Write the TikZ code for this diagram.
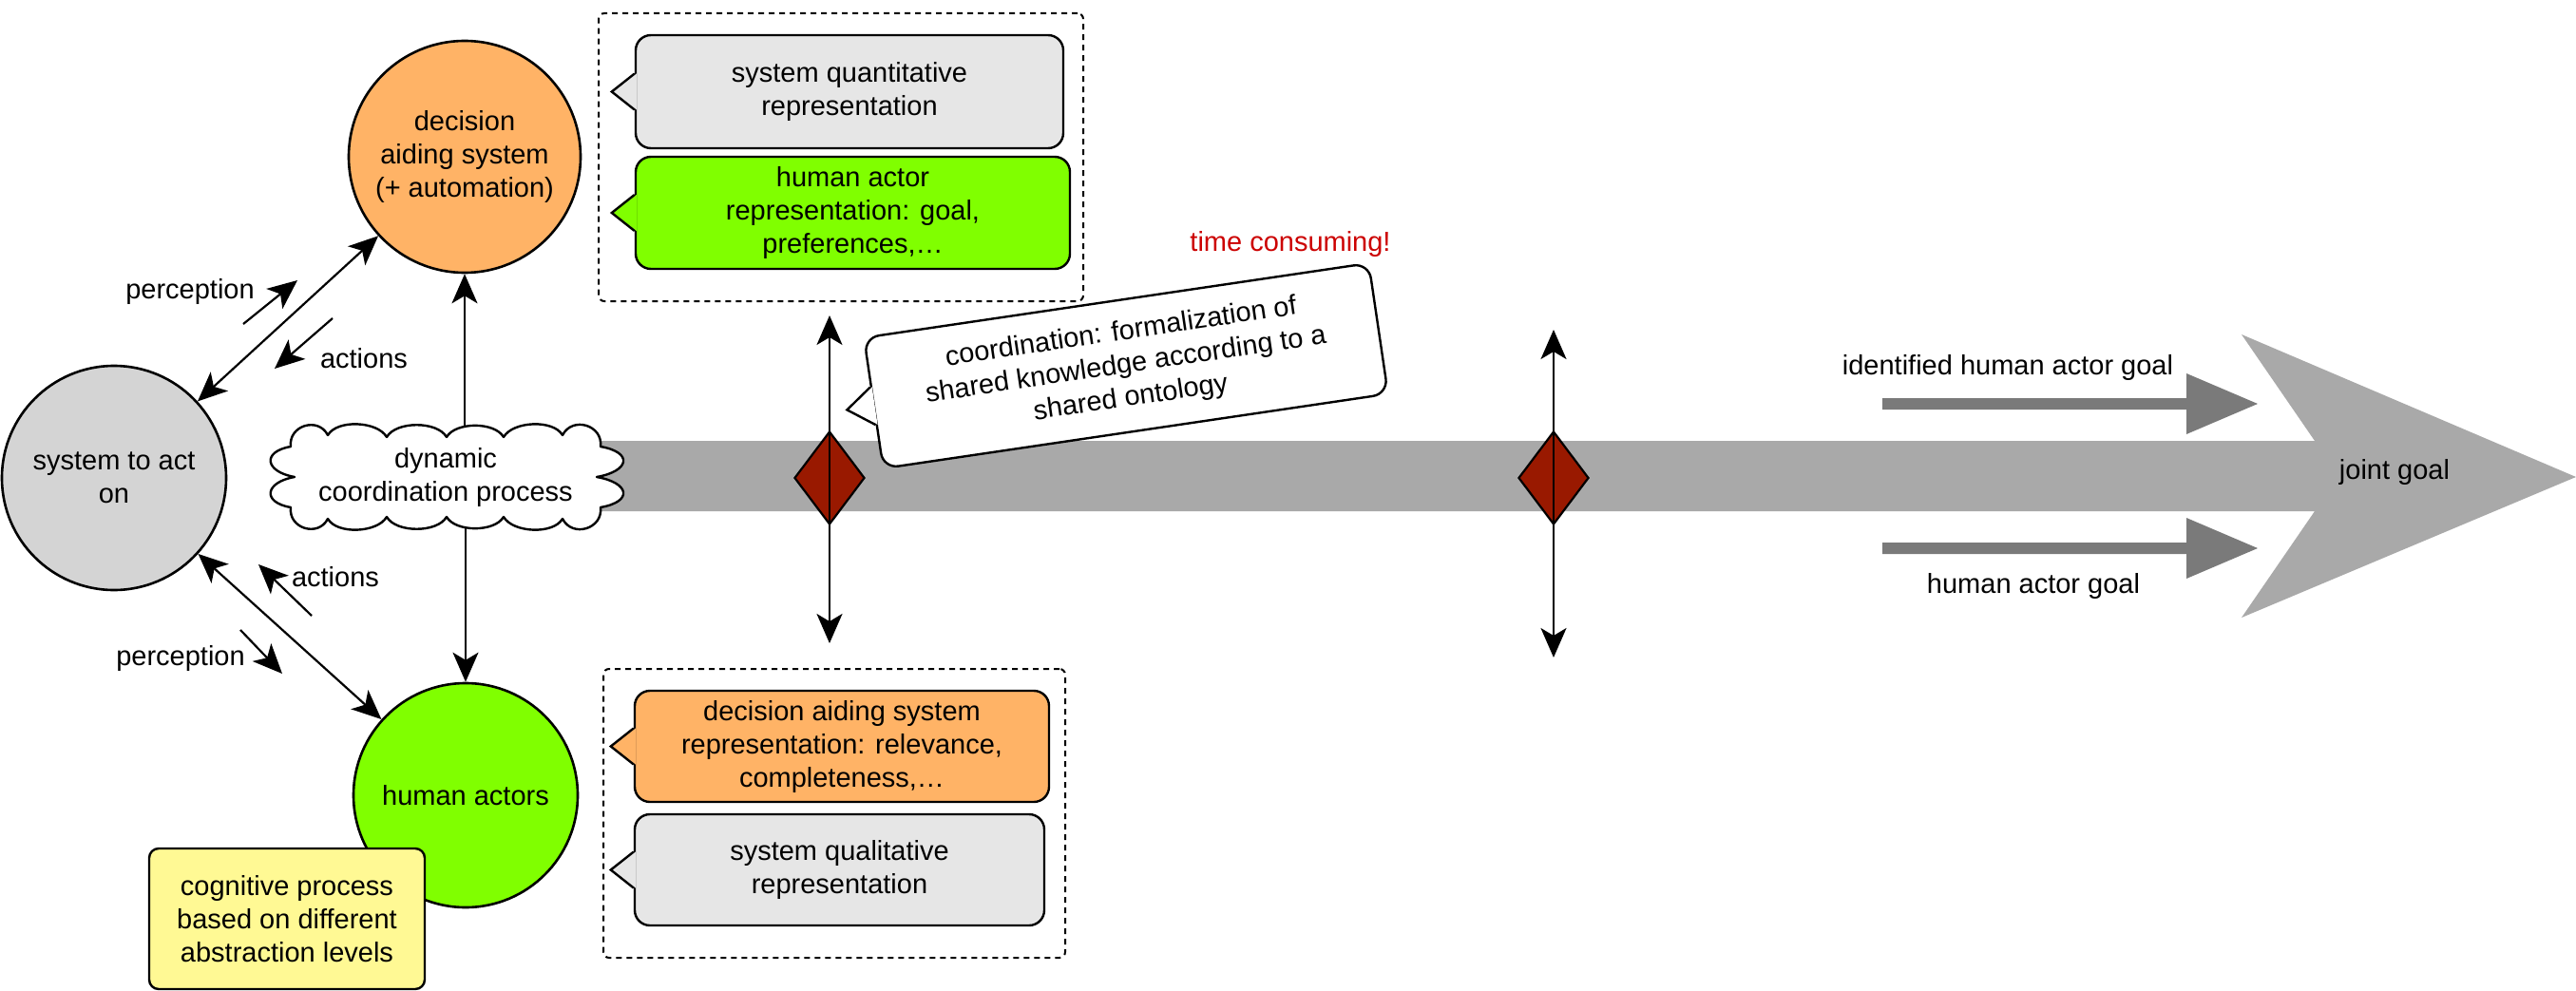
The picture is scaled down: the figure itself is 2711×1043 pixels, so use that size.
\documentclass[tikz,border=0pt]{standalone}
\usepackage{fontspec}
\setmainfont{Liberation Sans}
\usetikzlibrary{arrows.meta,shapes.geometric,calc}
\definecolor{orng}{HTML}{FFB366}
\definecolor{grn}{HTML}{80FF00}
\definecolor{sysgray}{HTML}{D4D4D4}
\definecolor{lgray}{HTML}{E6E6E6}
\definecolor{bandgray}{HTML}{A9A9A9}
\definecolor{darrgray}{HTML}{7A7A7A}
\definecolor{diared}{HTML}{991900}
\definecolor{yel}{HTML}{FFF994}
\definecolor{redtxt}{HTML}{CC0000}
\newcommand\bubbleptr[2]{%
  \fill[#2] ([xshift=2pt,yshift=19pt]#1.west) -- ([xshift=-24pt]#1.west) -- ([xshift=2pt,yshift=-19pt]#1.west) -- cycle;
  \draw[ptr] ([yshift=19pt]#1.west) -- ([xshift=-24pt]#1.west) -- ([yshift=-19pt]#1.west);}
\begin{document}
\begin{tikzpicture}[x=1pt,y=-1pt,
  txt/.style={font=\fontsize{29}{35}\selectfont, align=center, inner sep=0pt},
  circ/.style={txt, circle, draw, line width=2.6pt},
  conn/.style={line width=2.2pt, -{Stealth[length=31pt,width=27pt,inset=8pt]}},
  dconn/.style={line width=2.2pt, {Stealth[length=31pt,width=27pt,inset=8pt]}-{Stealth[length=31pt,width=27pt,inset=8pt]}},
  bubble/.style={txt, draw, line width=2.4pt, rounded corners=16pt},
  group/.style={draw, line width=2pt, dash pattern=on 6pt off 5pt, rounded corners=6pt, inner sep=0pt},
  dmd/.style={diamond, draw, fill=diared, line width=2.2pt, minimum width=74pt, minimum height=98pt, inner sep=0pt},
  ptr/.style={line width=2.4pt, line join=miter},
  cloudline/.style={draw, fill=white, line width=2.4pt, line join=round},
]
\fill[white] (0,0) rectangle (2711,1043);
\useasboundingbox (0,0) rectangle (2711,1043);

% main band with arrow head
\fill[bandgray] (600,464) -- (2436,464) -- (2359,352) -- (2711,502) -- (2359,650) -- (2436,538) -- (600,538) -- cycle;
% goal arrows
\fill[darrgray] (1981,419) -- (2301,419) -- (2301,393) -- (2376,425) -- (2301,457) -- (2301,431) -- (1981,431) -- cycle;
\fill[darrgray] (1981,571) -- (2301,571) -- (2301,545) -- (2376,577) -- (2301,609) -- (2301,583) -- (1981,583) -- cycle;
\node[txt] (idg) at (2113,387) {identified human actor goal};
\node[txt] (hag) at (2140,617) {human actor goal};
\node[txt] (jg) at (2520,497) {joint goal};
\node[txt, text=redtxt] (tc) at (1358,257) {time consuming!};

% circles
\node[circ, fill=sysgray, minimum size=236pt] (sys) at (120,503) {system to act\\on};
\node[circ, fill=orng, minimum size=244pt] (dec) at (489,165) {decision\\aiding system\\(+ automation)};
\node[circ, fill=grn, minimum size=236pt] (hum) at (490,837) {human actors};

% cloud arrows
\coordinate (cc) at (469,502);
\draw[conn] (cc -| dec.south) -- (dec.south);
\draw[conn] (cc -| hum.north) -- (hum.north);
% cloud outline
\path[cloudline] (310,502)
  to[out=170,in=190,looseness=2.5] (306,470)
  to[out=97,in=117,looseness=1.4] (345,458)
  to[out=60,in=120,looseness=0.8] (407,460)
  to[out=60,in=120,looseness=0.8] (470,460)
  to[out=60,in=120,looseness=0.8] (530,460)
  to[out=60,in=120,looseness=0.8] (592,458)
  to[out=63,in=83,looseness=1.4] (632,470)
  to[out=350,in=10,looseness=2.8] (628,502)
  to[out=350,in=10,looseness=2.8] (632,534)
  to[out=277,in=297,looseness=1.4] (592,546)
  to[out=240,in=300,looseness=0.8] (530,544)
  to[out=240,in=300,looseness=0.8] (470,544)
  to[out=240,in=300,looseness=0.8] (407,544)
  to[out=240,in=300,looseness=0.8] (345,546)
  to[out=243,in=263,looseness=1.4] (306,534)
  to[out=170,in=190,looseness=2.5] (310,502) -- cycle;
\node[txt] (cloud) at (cc) {dynamic\\coordination process};

% links between circles
\draw[dconn] (sys) -- (dec);
\draw[dconn] (sys) -- (hum);

% perception / actions
\coordinate (p1s) at (256,341); \coordinate (p1e) at (313,295);
\coordinate (a1s) at (350,335); \coordinate (a1e) at (289,388);
\coordinate (a2s) at (328,648); \coordinate (a2e) at (272,594);
\coordinate (p2s) at (253,663); \coordinate (p2e) at (297,709);
\draw[conn] (p1s) -- (p1e);
\draw[conn] (a1s) -- (a1e);
\draw[conn] (a2s) -- (a2e);
\draw[conn] (p2s) -- (p2e);
\node[txt] (pl1) at (200,307) {perception};
\node[txt] (al1) at (383,377) {actions};
\node[txt] (al2) at (353,607) {actions};
\node[txt] (pl2) at (190,693) {perception};

% cognitive box
\node[txt, draw, fill=yel, line width=2.4pt, rounded corners=10pt, minimum width=290pt, minimum height=148pt] (cog) at (302,967) {cognitive process\\based on different\\abstraction levels};

% groups
\node[group, minimum width=510pt, minimum height=303pt] (g1) at (885,165.5) {};
\node[group, minimum width=486pt, minimum height=304pt] (g2) at (878,856) {};

% callouts
\node[bubble, fill=lgray, minimum width=450pt, minimum height=119pt] (sq) at (894,96.5) {system quantitative\\representation};
\bubbleptr{sq}{lgray}
\node[bubble, fill=grn, minimum width=457pt, minimum height=118pt] (har) at (897.5,224) {human actor\\representation: goal,\\preferences,…};
\bubbleptr{har}{grn}
\node[bubble, fill=orng, minimum width=436pt, minimum height=117pt] (dar) at (886,785.5) {decision aiding system\\representation: relevance,\\completeness,…};
\bubbleptr{dar}{orng}
\node[bubble, fill=lgray, minimum width=431pt, minimum height=117pt] (sql) at (883.5,915.5) {system qualitative\\representation};
\bubbleptr{sql}{lgray}

% diamonds
\node[dmd] (d1) at (873,503) {};
\node[dmd] (d2) at (1635,503) {};
\coordinate (v1t) at (873,332); \coordinate (v1b) at (873,677);
\coordinate (v2t) at (1635,347); \coordinate (v2b) at (1635,692);
\draw[conn] (d1.center) -- (v1t);
\draw[conn] (d1.center) -- (v1b);
\draw[conn] (d2.center) -- (v2t);
\draw[conn] (d2.center) -- (v2b);

% coordination callout
\node[bubble, fill=white, rotate=8.4, minimum width=537pt, minimum height=139pt] (coord) at (1185,385) {coordination: formalization of\\shared knowledge according to a\\shared ontology};
\begin{scope}[shift={(coord.west)}, rotate=8.4]
  \fill[white] (2,-17) -- (-27.5,3) -- (2,23) -- cycle;
  \draw[ptr] (0,-17) -- (-27.5,3) -- (0,23);
\end{scope}
\end{tikzpicture}
\end{document}
